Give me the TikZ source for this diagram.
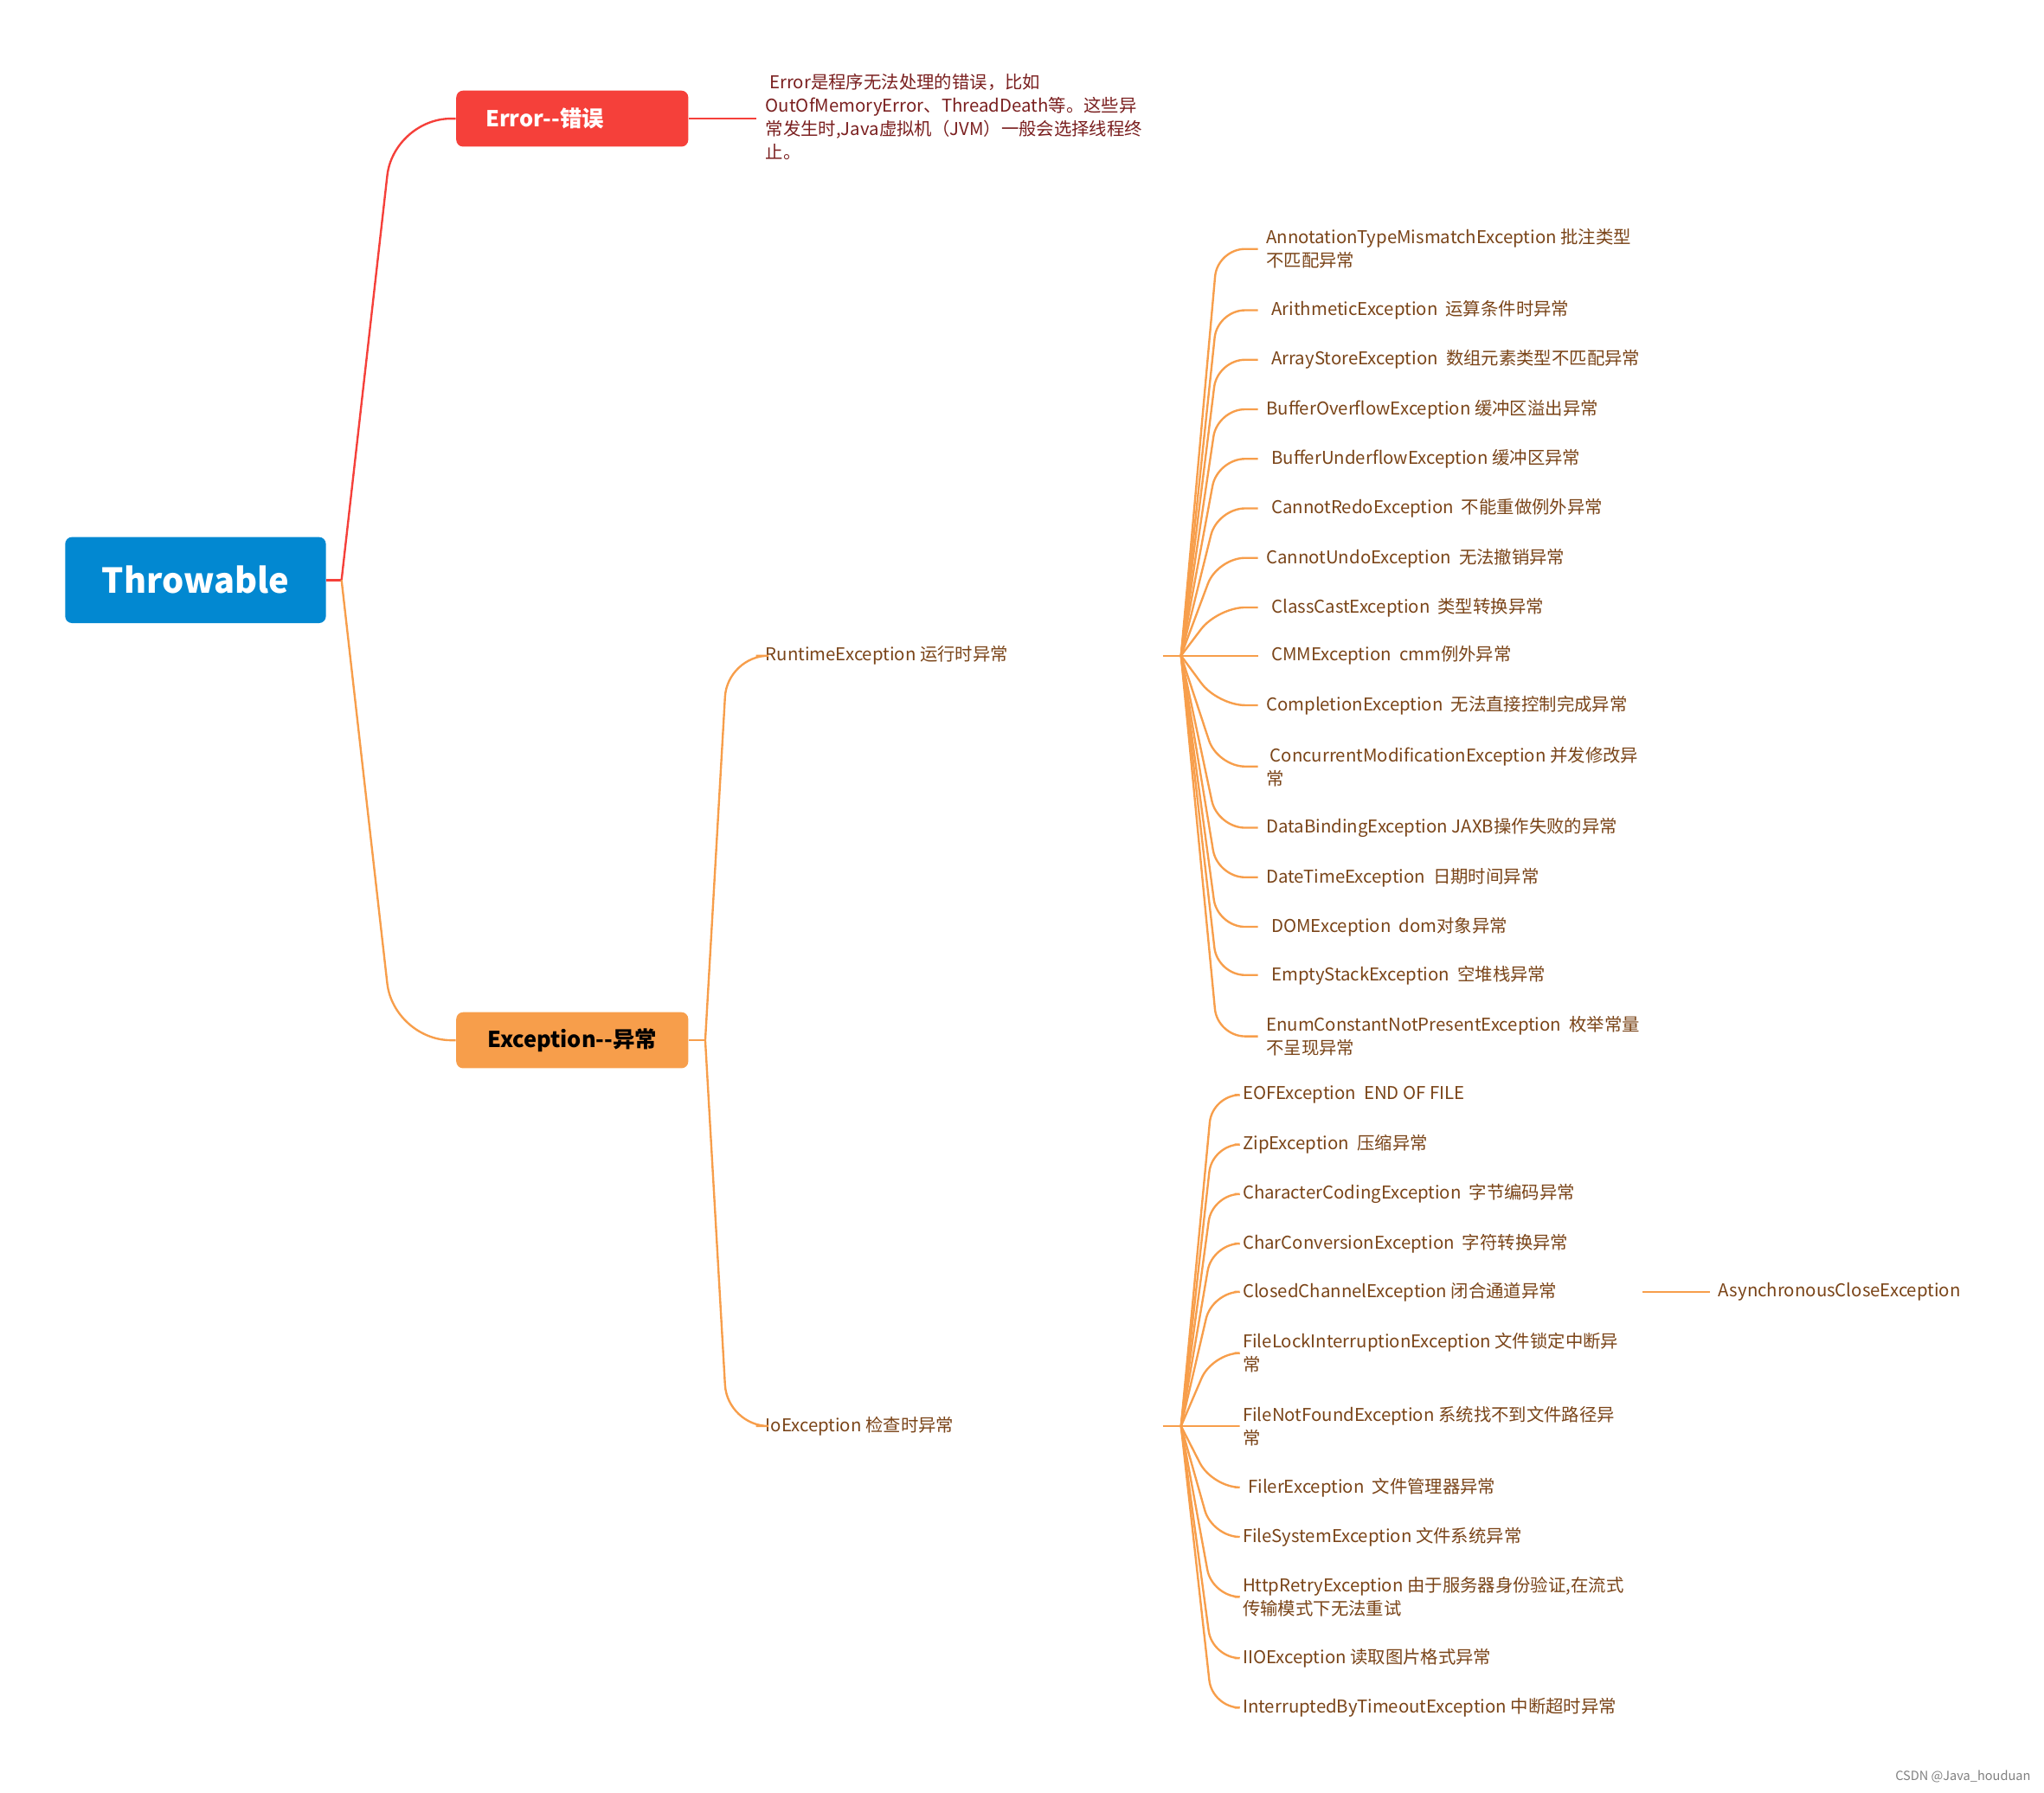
\documentclass[tikz,border=0pt]{standalone}
\usepackage{fontspec}
\setmainfont{Noto Sans CJK SC}
\definecolor{tblue}{HTML}{0288D1}
\definecolor{ered}{HTML}{F5403A}
\definecolor{eorg}{HTML}{F79E4B}
\definecolor{itxt}{HTML}{7A4418}
\definecolor{dtxt}{HTML}{7A1F1F}
\begin{document}
\begin{tikzpicture}[x=0.02cm,y=-0.02cm,
  item/.style={anchor=west,inner sep=0pt,text=itxt,font=\fontsize{7.7}{10.2}\selectfont,align=left},
  olink/.style={draw=eorg,line width=0.9pt,rounded corners=12},
  box/.style={rounded corners=3pt,inner sep=0pt}]
\useasboundingbox (0,0) rectangle (1568,1375);
\node[box,fill=tblue,minimum width=200*0.02cm,minimum height=66*0.02cm,text=white,font=\fontsize{15}{18}\bfseries] (thr) at (150,445) {Throwable};
\node[box,fill=ered,minimum width=178*0.02cm,minimum height=43*0.02cm,text=white,font=\fontsize{9.6}{11}\bfseries] (err) at (439,91) {\hspace*{-2.5em}Error-{}-错误};
\node[box,fill=eorg,minimum width=178*0.02cm,minimum height=43*0.02cm,text=black,font=\fontsize{9.6}{11}\bfseries] (exc) at (439,798) {Exception-{}-异常};
\node[item,text=dtxt,anchor=north west] (desc) at (587,56) {\ Error是程序无法处理的错误，比如\\OutOfMemoryError、ThreadDeath等。这些异\\常发生时,Java虚拟机（JVM）一般会选择线程终\\止。};
\coordinate (t0) at (262,445);
\draw[ered,line width=0.9pt] (thr.east) -- (t0);
\draw[ered,line width=0.9pt,rounded corners=25] (t0) -- (302,91) -- (err.west);
\draw[ered,line width=0.9pt] (err.east) -- (580,91);
\draw[olink,rounded corners=25] (t0) -- (302,798) -- (exc.west);
\coordinate (e0) at (541,798);
\draw[olink] (exc.east) -- (e0);
\node[item] (rt) at (587,503) {RuntimeException 运行时异常};
\node[item] (io) at (587,1094) {IoException 检查时异常};
\draw[olink,rounded corners=18] (e0) -- (558,503) -- (580,503);
\draw[olink,rounded corners=18] (e0) -- (558,1094) -- (580,1094);
\coordinate (rh) at (906,503);
\coordinate (ih) at (906,1094);
\draw[olink] (892,503) -- (rh);
\draw[olink] (892,1094) -- (ih);
\foreach \y/\xx/\t in {191/971/{AnnotationTypeMismatchException 批注类型\\不匹配异常},
 238/975/{ArithmeticException\ \ 运算条件时异常},
 276/975/{ArrayStoreException\ \ 数组元素类型不匹配异常},
 314/971/{BufferOverflowException 缓冲区溢出异常},
 352/975/{BufferUnderflowException 缓冲区异常},
 390/975/{CannotRedoException\ \ 不能重做例外异常},
 428/971/{CannotUndoException\ \ 无法撤销异常},
 466/975/{ClassCastException\ \ 类型转换异常},
 503/975/{CMMException\ \ cmm例外异常},
 541/971/{CompletionException\ \ 无法直接控制完成异常},
 588/971/{\ ConcurrentModificationException 并发修改异\\常},
 635/971/{DataBindingException JAXB操作失败的异常},
 673/971/{DateTimeException\ \ 日期时间异常},
 711/975/{DOMException\ \ dom对象异常},
 748/975/{EmptyStackException\ \ 空堆栈异常},
 795/971/{EnumConstantNotPresentException\ \ 枚举常量\\不呈现异常}}
{
 \draw[olink] (rh) -- (934,\y) -- (965,\y);
 \node[item] at (\xx,\y) {\t};
}
\foreach \y/\xx/\t in {840/953/{EOFException\ \ END OF FILE},
 878/953/{ZipException\ \ 压缩异常},
 916/953/{CharacterCodingException\ \ 字节编码异常},
 954/953/{CharConversionException\ \ 字符转换异常},
 991/953/{ClosedChannelException 闭合通道异常},
 1038/953/{FileLockInterruptionException 文件锁定中断异\\常},
 1094/953/{FileNotFoundException 系统找不到文件路径异\\常},
 1141/957/{FilerException\ \ 文件管理器异常},
 1179/953/{FileSystemException 文件系统异常},
 1225/953/{HttpRetryException 由于服务器身份验证,在流式\\传输模式下无法重试},
 1272/953/{IIOException 读取图片格式异常},
 1310/953/{InterruptedByTimeoutException 中断超时异常}}
{
 \draw[olink] (ih) -- (930,\y) -- (947,\y);
 \node[item] at (\xx,\y) {\t};
}
\node[item] (ace) at (1318,991) {AsynchronousCloseException};
\draw[olink] (1260,991) -- (1312,991);
\node[anchor=east,inner sep=0pt,text=gray,font=\fontsize{5.5}{6}\selectfont] (wm) at (1558,1363) {CSDN @Java\_houduan};
\end{tikzpicture}
\end{document}
